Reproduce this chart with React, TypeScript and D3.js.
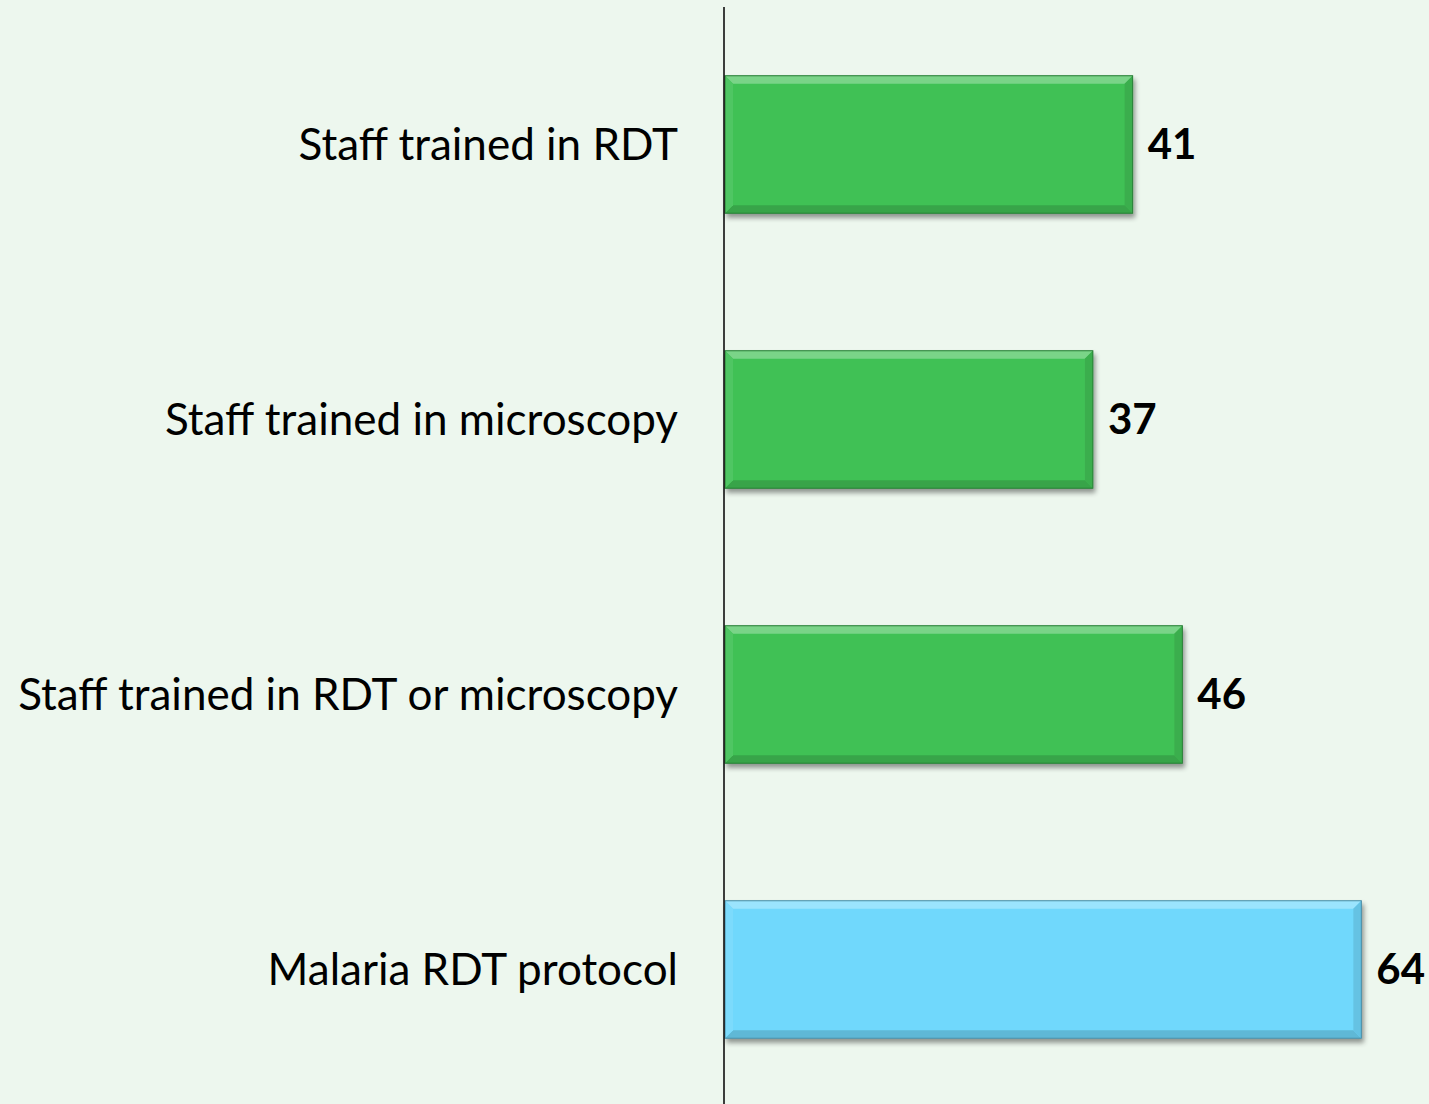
import React, { useEffect, useRef } from 'react';
import * as d3 from 'd3';

const categories = [
  'Staff trained in RDT',
  'Staff trained in microscopy',
  'Staff trained in RDT or microscopy',
  'Malaria RDT protocol',
];
const values = [41, 37, 46, 64];
const barColors = ['#41c155', '#41c155', '#41c155', '#70d8fc'];

const WIDTH = 1429;
const HEIGHT = 1104;

function App() {
  const svgRef = useRef<SVGSVGElement>(null);

  useEffect(() => {
    const svg = d3.select(svgRef.current);
    svg.selectAll('*').remove();
    svg.attr('width', WIDTH).attr('height', HEIGHT);

    const axisX = 725;
    const x = d3.scaleLinear().domain([0, 70]).range([axisX, axisX + 696]);
    const y = d3.scaleBand<string>()
      .domain(categories)
      .range([7, 1107])
      .paddingInner(0.5)
      .paddingOuter(0.25);

    const defs = svg.append('defs');
    const shadow = defs.append('filter').attr('id', 'shadow')
      .attr('x', '-5%').attr('y', '-10%').attr('width', '115%').attr('height', '130%');
    shadow.append('feGaussianBlur').attr('in', 'SourceAlpha').attr('stdDeviation', 2.5);
    shadow.append('feOffset').attr('dx', 2).attr('dy', 4).attr('result', 'blur');
    shadow.append('feComponentTransfer').append('feFuncA').attr('type', 'linear').attr('slope', 0.4);
    const merge = shadow.append('feMerge');
    merge.append('feMergeNode');
    merge.append('feMergeNode').attr('in', 'SourceGraphic');

    svg.append('rect')
      .attr('width', WIDTH).attr('height', HEIGHT)
      .attr('fill', '#edf7ee');

    const bars = svg.append('g');
    const bev = 8;
    categories.forEach((c, i) => {
      const x0 = x(0);
      const x1 = x(values[i]);
      const y0 = y(c)!;
      const y1 = y0 + y.bandwidth();
      const base = barColors[i];
      const light = d3.interpolateRgb(base, '#ffffff');
      const dark = d3.interpolateRgb(base, '#000000');
      const g = bars.append('g').attr('filter', 'url(#shadow)');
      g.append('rect')
        .attr('x', x0).attr('y', y0)
        .attr('width', x1 - x0).attr('height', y1 - y0)
        .attr('fill', base);
      // bevel edges
      const poly = (pts: [number, number][], fill: string) =>
        g.append('polygon').attr('points', pts.map(p => p.join(',')).join(' ')).attr('fill', fill);
      poly([[x0, y0], [x1, y0], [x1 - bev, y0 + bev], [x0 + bev, y0 + bev]], light(0.3));
      poly([[x0, y1], [x1, y1], [x1 - bev, y1 - bev], [x0 + bev, y1 - bev]], dark(0.15));
      poly([[x1, y0], [x1, y1], [x1 - bev, y1 - bev], [x1 - bev, y0 + bev]], dark(0.1));
      poly([[x0, y0], [x0, y1], [x0 + bev, y1 - bev], [x0 + bev, y0 + bev]], light(0.08));
      g.append('rect')
        .attr('x', x0).attr('y', y0)
        .attr('width', x1 - x0).attr('height', y1 - y0)
        .attr('fill', 'none')
        .attr('stroke', dark(0.35))
        .attr('stroke-width', 1);
    });

    svg.append('line')
      .attr('x1', 724).attr('x2', 724)
      .attr('y1', 7).attr('y2', HEIGHT)
      .attr('stroke', '#000').attr('stroke-width', 1.5);

    svg.append('g')
      .selectAll('text')
      .data(categories)
      .join('text')
      .attr('x', 678)
      .attr('y', d => y(d)! + y.bandwidth() / 2)
      .attr('dy', '0.35em')
      .attr('text-anchor', 'end')
      .attr('font-family', 'Lato, sans-serif')
      .attr('font-size', 44)
      .attr('fill', '#000')
      .text(d => d);

    svg.append('g')
      .selectAll('text')
      .data(categories)
      .join('text')
      .attr('x', (d, i) => x(values[i]) + 15)
      .attr('y', d => y(d)! + y.bandwidth() / 2)
      .attr('dy', '0.35em')
      .attr('font-family', 'Lato, sans-serif')
      .attr('font-weight', 'bold')
      .attr('font-size', 42)
      .attr('fill', '#000')
      .text((d, i) => values[i]);
  }, []);

  return (
    <div style={{ position: 'absolute', left: 0, top: 0 }}>
      <svg ref={svgRef} style={{ display: 'block' }}></svg>
    </div>
  );
}

export default App;
